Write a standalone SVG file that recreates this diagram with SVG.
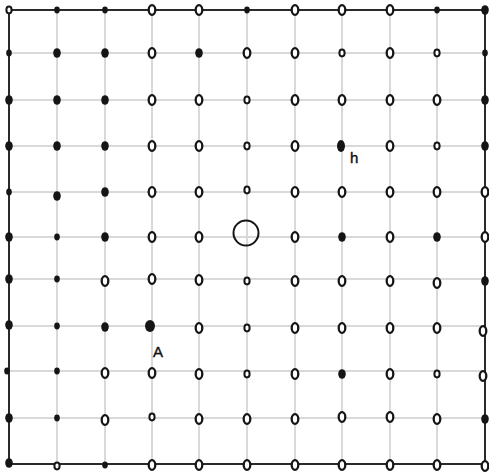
<svg xmlns="http://www.w3.org/2000/svg" xmlns:xlink="http://www.w3.org/1999/xlink" width="489" height="476" viewBox="0 0 489 476">
<style>
.grid line{stroke:#d9d9d9;stroke-width:2}
.border{fill:none;stroke:#2a2a2a;stroke-width:2}
.lbl{font-family:"Liberation Sans",Arial,sans-serif;font-size:15px;fill:#111;stroke:#111;stroke-width:0.4}
</style>
<defs>
<ellipse id="O" cx="0" cy="0" rx="3.3" ry="4.8" fill="#fff" stroke="#151515" stroke-width="2.3"/>
<ellipse id="o" cx="0" cy="0" rx="2.6" ry="3.4" fill="#fff" stroke="#151515" stroke-width="2"/>
<ellipse id="F" cx="0" cy="0" rx="3.8" ry="4.8" fill="#151515"/>
<ellipse id="s" cx="0" cy="0" rx="2.8" ry="3.4" fill="#151515"/>
</defs>
<rect width="489" height="476" fill="#fff"/>
<g class="grid" id="grid">
<line x1="57" y1="10" x2="57" y2="464"/><line x1="105" y1="10" x2="105" y2="464"/><line x1="152" y1="10" x2="152" y2="464"/><line x1="199" y1="10" x2="199" y2="464"/><line x1="247" y1="10" x2="247" y2="464"/><line x1="295" y1="10" x2="295" y2="464"/><line x1="342" y1="10" x2="342" y2="464"/><line x1="390" y1="10" x2="390" y2="464"/><line x1="437" y1="10" x2="437" y2="464"/>
<line x1="9" y1="53" x2="485" y2="53"/><line x1="9" y1="100" x2="485" y2="100"/><line x1="9" y1="146" x2="485" y2="146"/><line x1="9" y1="192" x2="485" y2="192"/><line x1="9" y1="237" x2="485" y2="237"/><line x1="9" y1="279" x2="485" y2="279"/><line x1="9" y1="326" x2="485" y2="326"/><line x1="9" y1="371" x2="485" y2="371"/><line x1="9" y1="418" x2="485" y2="418"/>
</g>
<rect class="border" x="9" y="10" width="476" height="454"/>
<g id="points">
<use href="#o" x="9" y="10"/><use href="#s" x="57" y="10"/><use href="#s" x="105" y="10"/><use href="#O" x="152" y="10"/><use href="#O" x="199" y="10"/><use href="#s" x="247" y="10"/><use href="#O" x="295" y="10"/><use href="#O" x="342" y="10"/><use href="#O" x="390" y="10"/><use href="#s" x="437" y="10"/><use href="#F" x="485" y="10"/>
<use href="#s" x="9" y="53"/><use href="#F" x="57" y="53"/><use href="#F" x="105" y="53"/><use href="#O" x="152" y="53"/><use href="#F" x="199" y="53"/><use href="#O" x="247" y="53"/><use href="#O" x="295" y="53"/><use href="#o" x="342" y="53"/><use href="#O" x="390" y="53"/><use href="#o" x="437" y="53"/><use href="#s" x="485" y="53"/>
<use href="#F" x="9" y="100"/><use href="#F" x="57" y="100"/><use href="#F" x="105" y="100"/><use href="#O" x="152" y="100"/><use href="#O" x="199" y="100"/><use href="#o" x="247" y="100"/><use href="#O" x="295" y="100"/><use href="#O" x="342" y="100"/><use href="#O" x="390" y="100"/><use href="#O" x="437" y="100"/><use href="#F" x="485" y="100"/>
<use href="#F" x="9" y="146"/><use href="#F" x="57" y="146"/><use href="#F" x="105" y="146"/><use href="#O" x="152" y="146"/><use href="#O" x="199" y="146"/><use href="#o" x="247" y="146"/><use href="#O" x="295" y="146"/><use href="#O" x="390" y="146"/><use href="#o" x="437" y="146"/><use href="#F" x="485" y="146"/>
<use href="#s" x="9" y="192"/><use href="#F" x="57" y="196"/><use href="#F" x="105" y="192"/><use href="#O" x="152" y="192"/><use href="#O" x="199" y="192"/><use href="#o" x="247" y="190"/><use href="#O" x="295" y="192"/><use href="#O" x="342" y="192"/><use href="#O" x="390" y="192"/><use href="#O" x="437" y="192"/><use href="#O" x="485" y="192"/>
<use href="#F" x="9" y="237"/><use href="#s" x="57" y="237"/><use href="#F" x="105" y="237"/><use href="#O" x="152" y="237"/><use href="#O" x="199" y="237"/><use href="#O" x="295" y="237"/><use href="#F" x="342" y="237"/><use href="#O" x="390" y="237"/><use href="#F" x="437" y="237"/><use href="#O" x="485" y="237"/>
<use href="#F" x="9" y="279"/><use href="#s" x="57" y="279"/><use href="#O" x="105" y="281"/><use href="#O" x="152" y="279"/><use href="#O" x="199" y="280"/><use href="#o" x="247" y="281"/><use href="#O" x="295" y="281"/><use href="#O" x="342" y="281"/><use href="#O" x="390" y="281"/><use href="#O" x="437" y="283"/><use href="#F" x="485" y="281"/>
<use href="#F" x="9" y="325"/><use href="#s" x="57" y="326"/><use href="#F" x="105" y="327"/><use href="#O" x="199" y="328"/><use href="#o" x="247" y="328"/><use href="#O" x="295" y="328"/><use href="#O" x="342" y="328"/><use href="#O" x="390" y="328"/><use href="#O" x="437" y="328"/><use href="#O" x="483" y="331"/>
<use href="#s" x="7" y="371"/><use href="#s" x="57" y="371"/><use href="#O" x="105" y="373"/><use href="#O" x="152" y="373"/><use href="#O" x="199" y="374"/><use href="#o" x="247" y="374"/><use href="#O" x="295" y="374"/><use href="#F" x="342" y="374"/><use href="#O" x="390" y="374"/><use href="#o" x="437" y="374"/><use href="#O" x="483" y="376"/>
<use href="#F" x="9" y="418"/><use href="#s" x="57" y="418"/><use href="#O" x="105" y="420"/><use href="#o" x="152" y="417"/><use href="#O" x="199" y="419"/><use href="#O" x="247" y="419"/><use href="#O" x="295" y="419"/><use href="#O" x="342" y="417"/><use href="#O" x="390" y="417"/><use href="#O" x="437" y="419"/><use href="#F" x="485" y="419"/>
<use href="#F" x="9" y="463"/><use href="#o" x="57" y="466"/><use href="#s" x="105" y="465"/><use href="#O" x="152" y="465"/><use href="#O" x="199" y="465"/><use href="#O" x="247" y="465"/><use href="#O" x="295" y="465"/><use href="#O" x="342" y="465"/><use href="#O" x="390" y="465"/><use href="#O" x="437" y="465"/><use href="#O" x="485" y="466"/>
</g>
<g id="center"><circle cx="246" cy="233" r="12.5" fill="none" stroke="#151515" stroke-width="2"/></g>
<g id="pointB"><ellipse cx="341" cy="146" rx="4" ry="6" fill="#151515"/><text class="lbl" x="350" y="163">h</text></g>
<g id="pointA"><ellipse cx="150" cy="326" rx="5" ry="6" fill="#151515"/><text class="lbl" x="153" y="357">A</text></g>
</svg>
